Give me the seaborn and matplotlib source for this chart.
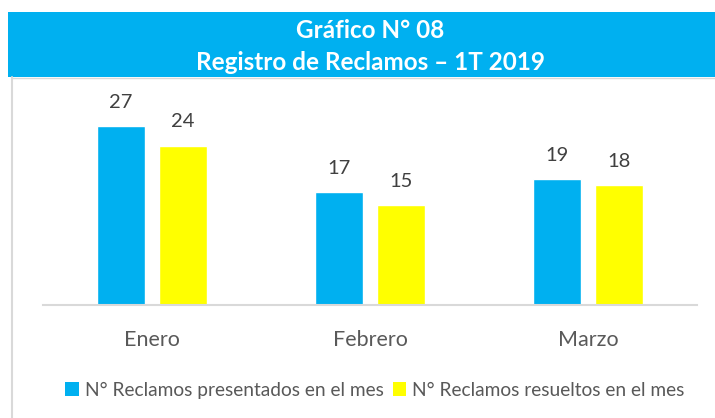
import matplotlib
matplotlib.use("Agg")
import matplotlib.pyplot as plt
import seaborn as sns
import pandas as pd
from matplotlib.patches import Rectangle
from matplotlib.lines import Line2D

months = ["Enero", "Febrero", "Marzo"]
series_names = ["N° Reclamos presentados en el mes", "N° Reclamos resueltos en el mes"]
presentados = [27, 17, 19]
resueltos = [24, 15, 18]
colors = ["#00B0F0", "#FFFF00"]
title_lines = ["Gráfico N° 08", "Registro de Reclamos – 1T 2019"]

df = pd.DataFrame({
    "mes": months * 2,
    "serie": [series_names[0]] * 3 + [series_names[1]] * 3,
    "valor": presentados + resueltos,
})

sns.set_theme(style="white")
plt.rcParams["font.family"] = ["Lato", "DejaVu Sans"]

W, H = 715, 418
fig = plt.figure(figsize=(W / 100, H / 100), dpi=100)

def fx(px):
    return px / W

def fy(py):
    return 1 - py / H

# title band
fig.patches.append(Rectangle((fx(8), fy(77)), fx(715) - fx(8), fy(12) - fy(77),
                             transform=fig.transFigure, facecolor="#00B0F0",
                             edgecolor="none", zorder=0))
fig.text(fx(370), fy(31), title_lines[0], ha="center", va="center",
         color="white", fontsize=17.5, fontweight="bold")
fig.text(fx(370), fy(62), title_lines[1], ha="center", va="center",
         color="white", fontsize=17.5, fontweight="bold")
# left chart border
fig.lines.append(Line2D([fx(12), fx(12)], [fy(77), 0], transform=fig.transFigure,
                        color="#D9D9D9", lw=1.5))
fig.lines.append(Line2D([fx(12), 1], [fy(77.5), fy(77.5)], transform=fig.transFigure,
                        color="#D9D9D9", lw=1.0))

ax = fig.add_axes([fx(43), fy(304.5), fx(697) - fx(43), fy(106) - fy(304.5)])
sns.barplot(data=df, x="mes", y="valor", hue="serie", palette=colors,
            width=0.566, gap=0.226, ax=ax, legend=False, saturation=1)
ax.set_ylim(0, 30)
ax.set_xlim(-0.5, 2.5)
ax.set_xlabel("")
ax.set_ylabel("")
ax.set_yticks([])
for s in ["top", "left", "right"]:
    ax.spines[s].set_visible(False)
ax.spines["bottom"].set_color("#D9D9D9")
ax.spines["bottom"].set_linewidth(1.5)
ax.tick_params(axis="x", length=0, pad=18, labelsize=15.5, labelcolor="#595959")
ax.patch.set_alpha(0)

for cont in ax.containers:
    labels = ax.bar_label(cont, fmt="%d", padding=11, fontsize=14.5, color="#404040")
    for t in labels:
        t.set_clip_on(False)

# legend
handles = [Rectangle((0, 0), 1, 1, facecolor=c, edgecolor="none") for c in colors]
fig.legend(handles, series_names, loc="center", bbox_to_anchor=(fx(375), fy(390)),
           ncol=2, frameon=False, fontsize=13.8, labelcolor="#595959",
           handlelength=0.7, handleheight=0.7, handletextpad=0.3, columnspacing=0.5)

fig.savefig("out.png", dpi=100)
